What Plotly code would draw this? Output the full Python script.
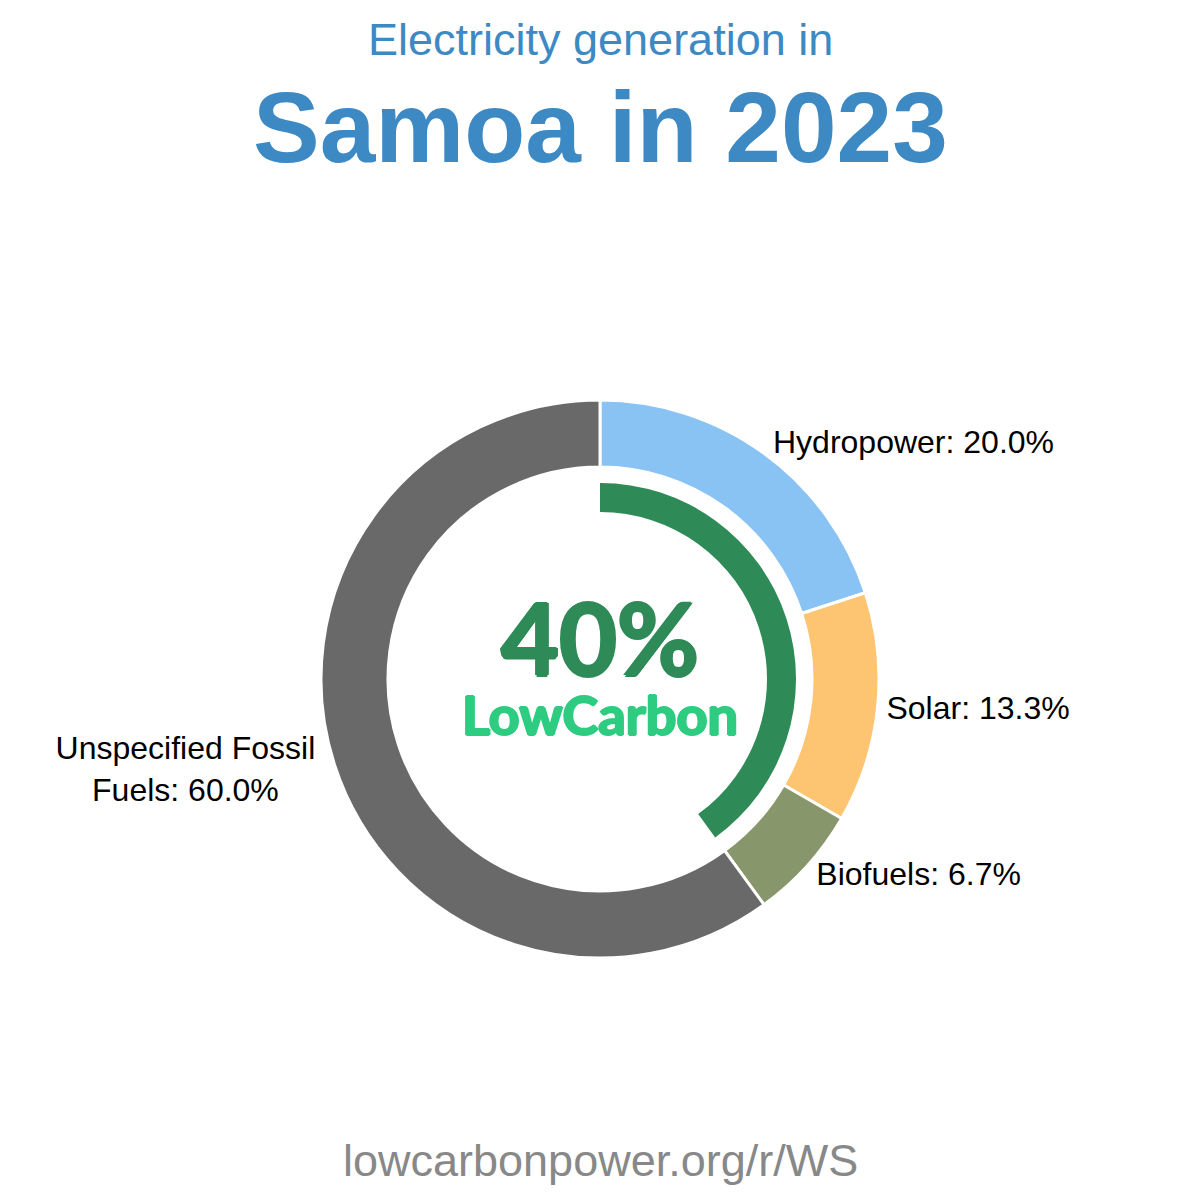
import plotly.graph_objects as go

# Data
sources = ["Hydropower", "Solar", "Biofuels", "Unspecified Fossil<br>Fuels"]
shares = [20.0, 13.33, 6.67, 60.0]
colors = ["#89c3f3", "#fdc572", "#87966b", "#696969"]

low_carbon_share = 40
low_carbon_parts = [low_carbon_share, 100 - low_carbon_share]

title_line1 = "Electricity generation in"
title_line2 = "Samoa in 2023"
footer = "lowcarbonpower.org/r/WS"

W = H = 1200
cx, cy = 600, 679
R_out, R_in = 279, 212
R_arc_out, R_arc_in = 196, 167


def dom(r):
    return dict(x=[(cx - r) / W, (cx + r) / W],
                y=[1 - (cy + r) / H, 1 - (cy - r) / H])


def thick(c, n=1.2):
    return ", ".join("%spx %spx 0 %s" % (dx, dy, c)
                     for dx, dy in [(n, 0), (-n, 0), (0, n), (0, -n)])


fig = go.Figure()

fig.add_trace(go.Pie(
    labels=sources,
    values=shares,
    hole=R_in / R_out,
    sort=False,
    direction="clockwise",
    rotation=0,
    marker=dict(colors=colors, line=dict(color="white", width=3)),
    textposition="outside",
    texttemplate="%{label}: %{percent:.1%}",
    textfont=dict(family="Liberation Sans, Arial, sans-serif", size=32, color="black"),
    domain=dom(R_out),
    showlegend=False,
))

fig.add_trace(go.Pie(
    values=low_carbon_parts,
    labels=["Low carbon", "Other"],
    hole=R_arc_in / R_arc_out,
    sort=False,
    direction="clockwise",
    rotation=0,
    marker=dict(colors=["#2e8b57", "rgba(0,0,0,0)"], line=dict(width=0)),
    textinfo="none",
    hoverinfo="skip",
    domain=dom(R_arc_out),
    showlegend=False,
))

annotations = [
    dict(text=title_line1, x=0.5, y=1 - 40 / H, xref="paper", yref="paper",
         showarrow=False, xanchor="center", yanchor="middle",
         font=dict(family="Liberation Sans, Arial, sans-serif", size=45, color="#3d89c4")),
    dict(text="<b>" + title_line2 + "</b>", x=0.5, y=1 - 127 / H, xref="paper", yref="paper",
         showarrow=False, xanchor="center", yanchor="middle",
         font=dict(family="Liberation Sans, Arial, sans-serif", size=100, color="#3d89c4")),
    dict(text="<b>%d%%</b>" % low_carbon_share, x=0.5, y=1 - 636 / H, xref="paper", yref="paper",
         showarrow=False, xanchor="center", yanchor="middle",
         font=dict(family="Lato, sans-serif", size=100, color="#2e8b57",
                   shadow=thick("#2e8b57", 1.5))),
    dict(text="<b>LowCarbon</b>", x=0.5, y=1 - 714 / H, xref="paper", yref="paper",
         showarrow=False, xanchor="center", yanchor="middle",
         font=dict(family="Lato, sans-serif", size=54, color="#2ecc80",
                   shadow=thick("#2ecc80", 1.2))),
    dict(text=footer, x=0.5, y=1 - 1160 / H, xref="paper", yref="paper",
         showarrow=False, xanchor="center", yanchor="middle",
         font=dict(family="Liberation Sans, Arial, sans-serif", size=45, color="#888888")),
]

fig.update_layout(
    width=W, height=H,
    margin=dict(l=0, r=0, t=0, b=0),
    paper_bgcolor="white",
    plot_bgcolor="white",
    annotations=annotations,
)

fig.write_html("out.html")
